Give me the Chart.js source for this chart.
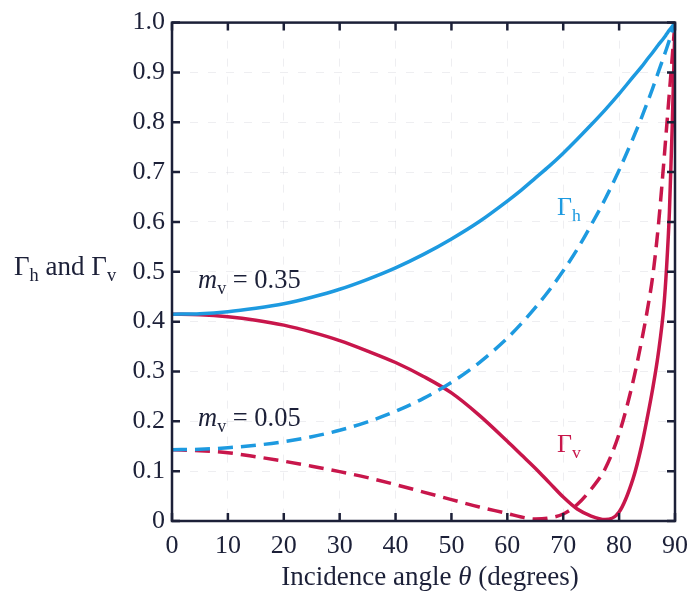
<!DOCTYPE html>
<html><head><meta charset="utf-8">
<script src="https://cdn.jsdelivr.net/npm/chart.js@4/dist/chart.umd.min.js"></script>
<style>html,body{margin:0;padding:0;background:#fff}canvas{display:block}</style>
</head><body>
<canvas id="c" width="698" height="595"></canvas>
<script>
// Incidence angle (degrees)
const angles = [0,5,10,15,20,25,30,35,40,45,50,55,60,62.5,65,67.5,70,72.5,75,77.5,80,82.5,84,85,86,87,88,88.5,89,89.5,90];
// Horizontal polarisation, m_v = 0.35 (solid) and 0.05 (dashed)
const gammaH_wet = [.415,.416,.420,.427,.436,.449,.465,.485,.508,.535,.566,.601,.642,.664,.688,.712,.738,.766,.795,.825,.857,.891,.911,.926,.940,.955,.969,.977,.985,.992,1.0];
const gammaH_dry = [.143,.144,.147,.152,.159,.169,.182,.199,.220,.246,.278,.318,.367,.396,.428,.463,.502,.545,.594,.646,.704,.768,.809,.838,.868,.900,.932,.948,.965,.983,1.0];
// Vertical polarisation, m_v = 0.35 (solid) and 0.05 (dashed)
const gammaV_wet = [.415,.414,.410,.403,.393,.379,.362,.341,.318,.290,.257,.212,.160,.133,.106,.077,.048,.024,.010,.003,.018,.085,.150,.205,.265,.335,.430,.510,.620,.790,1.0];
const gammaV_dry = [.143,.141,.137,.129,.120,.110,.099,.087,.073,.058,.043,.028,.015,.008,.004,.006,.014,.033,.064,.105,.175,.280,.360,.420,.490,.590,.720,.790,.860,.930,1.0];

const xTicks = [0,10,20,30,40,50,60,70,80,90];
const yTicks = [0,0.1,0.2,0.3,0.4,0.5,0.6,0.7,0.8,0.9,1.0];
const yTickLabels = ['0','0.1','0.2','0.3','0.4','0.5','0.6','0.7','0.8','0.9','1.0'];

const BLUE = '#1d9ae0';
const RED = '#c8164b';
const INK = '#1c2038';
const SERIF = '"Liberation Serif", "DejaVu Serif", serif';

const pts = ys => angles.map((a, i) => ({x: a, y: ys[i]}));

function richText(ctx, x, y, parts, size, color, align) {
  const fontFor = p => `${p.i ? 'italic ' : ''}${p.s ? size * 0.68 : size}px ${SERIF}`;
  let w = 0;
  parts.forEach(p => { ctx.font = fontFor(p); w += ctx.measureText(p.t).width; });
  let cx = align === 'center' ? x - w / 2 : align === 'right' ? x - w : x;
  ctx.save();
  ctx.fillStyle = color;
  ctx.textBaseline = 'alphabetic';
  ctx.textAlign = 'left';
  parts.forEach(p => {
    ctx.font = fontFor(p);
    ctx.fillText(p.t, cx, y + (p.s ? size * 0.22 : 0));
    cx += ctx.measureText(p.t).width;
  });
  ctx.restore();
}

const framePlugin = {
  id: 'frame',
  afterDraw(chart) {
    const {ctx, chartArea: a, scales: {x, y}} = chart;
    ctx.save();
    ctx.strokeStyle = INK;
    ctx.lineWidth = 2.5;
    ctx.strokeRect(a.left, a.top, a.right - a.left, a.bottom - a.top);
    const tl = 8;
    ctx.beginPath();
    xTicks.forEach(v => {
      const px = x.getPixelForValue(v);
      ctx.moveTo(px, a.bottom); ctx.lineTo(px, a.bottom - tl);
      ctx.moveTo(px, a.top); ctx.lineTo(px, a.top + tl);
    });
    yTicks.forEach(v => {
      const py = y.getPixelForValue(v);
      ctx.moveTo(a.left, py); ctx.lineTo(a.left + tl, py);
      ctx.moveTo(a.right, py); ctx.lineTo(a.right - tl, py);
    });
    ctx.stroke();
    ctx.restore();

    // axis titles
    richText(ctx, 430, 585, [{t: 'Incidence angle '}, {t: 'θ', i: true}, {t: ' (degrees)'}], 27, INK, 'center');
    richText(ctx, 14, 275, [{t: 'Γ'}, {t: 'h', s: true}, {t: ' and Γ'}, {t: 'v', s: true}], 27, INK, 'left');

    // curve annotations
    richText(ctx, 198, 288, [{t: 'm', i: true}, {t: 'v', s: true}, {t: ' = 0.35'}], 26.5, INK, 'left');
    richText(ctx, 198, 426, [{t: 'm', i: true}, {t: 'v', s: true}, {t: ' = 0.05'}], 26.5, INK, 'left');
    richText(ctx, 557, 215, [{t: 'Γ'}, {t: 'h', s: true}], 26, BLUE, 'left');
    richText(ctx, 557, 452, [{t: 'Γ'}, {t: 'v', s: true}], 26, RED, 'left');
  }
};

const lineStyle = (label, ys, color, dashed) => ({
  label, data: pts(ys), borderColor: color, borderWidth: 3.5,
  borderDash: dashed ? [15, 8] : [], pointRadius: 0,
  cubicInterpolationMode: 'monotone', fill: false
});

new Chart(document.getElementById('c'), {
  type: 'line',
  data: {
    datasets: [
      lineStyle('Γh mv=0.35', gammaH_wet, BLUE, false),
      lineStyle('Γh mv=0.05', gammaH_dry, BLUE, true),
      lineStyle('Γv mv=0.35', gammaV_wet, RED, false),
      lineStyle('Γv mv=0.05', gammaV_dry, RED, true)
    ]
  },
  options: {
    responsive: false,
    animation: false,
    devicePixelRatio: 1,
    layout: {padding: {top: 21, right: 15, left: 0, bottom: 0}},
    plugins: {legend: {display: false}, tooltip: {enabled: false}},
    scales: {
      x: {
        type: 'linear', min: 0, max: 90,
        afterBuildTicks: s => { s.ticks = xTicks.map(v => ({value: v})); },
        afterFit: s => { s.height = 74; },
        ticks: {font: {family: SERIF, size: 26}, color: INK, padding: 10, maxRotation: 0},
        grid: {color: 'rgba(170,170,185,0.2)', drawTicks: false, lineWidth: 1},
        border: {display: false, dash: [8, 10]}
      },
      y: {
        min: 0, max: 1,
        afterBuildTicks: s => { s.ticks = yTicks.map(v => ({value: v})); },
        afterFit: s => { s.width = 172; },
        ticks: {
          font: {family: SERIF, size: 26}, color: INK, padding: 7,
          callback: v => yTickLabels[Math.round(v * 10)]
        },
        grid: {color: 'rgba(170,170,185,0.2)', drawTicks: false, lineWidth: 1},
        border: {display: false, dash: [8, 10]}
      }
    }
  },
  plugins: [framePlugin]
});
</script>
</body></html>
